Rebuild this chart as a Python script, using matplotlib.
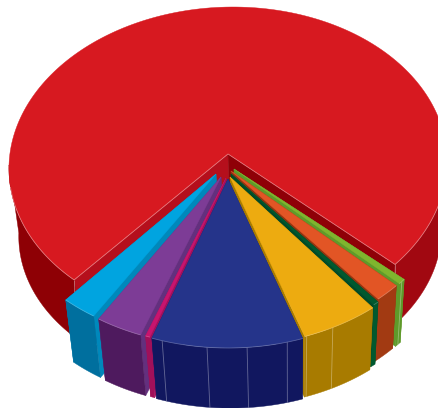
import numpy as np
import matplotlib
matplotlib.use("Agg")
import matplotlib.pyplot as plt
from matplotlib.patches import Polygon

# clockwise from the right edge of the large slice
names = ["green", "orange", "darkgreen", "gold", "navy", "magenta", "purple", "cyan", "red"]
values = [0.55, 1.9, 0.42, 5.75, 11.2, 0.33, 3.45, 2.6, 73.8]

offset_x = [6, 3, 3, 2, 0, -2, -7, -12, 0]
offset_y = [15, 17, 20, 23, 25, 24, 23, 20, 0]
top_col = ["#7fb52e", "#e25525", "#00592f", "#edab10", "#25348a", "#c8146e", "#7d3c96", "#00a4e0", "#d71920"]
wall_col = ["#5f9a2a", "#a23a12", "#00592f", "#a87b00", "#11175f", "#a0105a", "#4e1a5e", "#006f9e", "#9c0610"]
lo_col = ["#5f9a2a", "#8f3410", "#004a28", "#a87b00", "#1a2070", "#a0105a", "#63307e", "#0088bb", "#b50f1c"]
hi_col = ["#5f9a2a", "#8f3410", "#004a28", "#a87b00", "#1a2070", "#a0105a", "#63307e", "#0088bb", "#8f0007"]
seams = {"navy": [74.3, 85, 95.5, 107.5], "gold": [62, 69.5], "green": [40]}

CX, CY, A, B = 228, 165, 219, 158
APEX = -11
SCALE_X, SCALE_Y, DROP, VANISH_X = 0.965, 0.95, 68, 290
START = 39.0
RED_SHEAR = 5

fig = plt.figure(figsize=(4.38, 4.08), dpi=100)
ax = fig.add_axes([0, 0, 1, 1])
ax.set_xlim(0, 438)
ax.set_ylim(408, 0)
ax.axis("off")

fr = np.array(values) / sum(values) * 360
edges = START + np.concatenate([[0], np.cumsum(fr)])


def arc(t0, t1, c, shear=0.0, n=200):
    t = np.radians(np.linspace(t0, t1, n))
    return np.column_stack([c[0] + A * np.cos(t) - shear * np.sin(t), c[1] + B * np.sin(t)])


def down(pts, c):
    out = np.empty_like(pts)
    out[:, 0] = VANISH_X + SCALE_X * (pts[:, 0] - VANISH_X)
    out[:, 1] = c[1] + SCALE_Y * (pts[:, 1] - c[1]) + DROP
    return out


def poly(pts, col, z):
    ax.add_patch(Polygon(pts, closed=True, facecolor=col, edgecolor=col, lw=0.3, zorder=z))


def pale(pts, z, alpha=0.35):
    ax.plot(pts[:, 0], pts[:, 1], color="white", alpha=alpha, lw=0.6, zorder=z,
            solid_capstyle="butt")


order = ["red", "green", "orange", "darkgreen", "cyan", "purple", "magenta", "gold", "navy"]
for z, name in enumerate(order):
    i = names.index(name)
    c = np.array([CX + offset_x[i], CY + offset_y[i]], float)
    t0, t1 = edges[i], edges[i + 1]
    shear = RED_SHEAR if name == "red" else 0.0
    rim = arc(t0, t1, c, shear)
    apex = np.array([[c[0], c[1] + APEX]], float)
    base = z * 10
    # radial faces
    for end, col in ((rim[:1], lo_col[i]), (rim[-1:], hi_col[i])):
        poly(np.vstack([apex, end, down(end, c), down(apex, c)]), col, base + 1)
    # outer wall
    if name == "red":
        left = arc(t0, 180, c, shear, 100)
        right = arc(360, t1, c, shear, 100)
        poly(np.vstack([left, down(left, c)[::-1]]), "#8e0005", base + 2)
        poly(np.vstack([right, down(right, c)[::-1]]), "#a10811", base + 2)
    else:
        poly(np.vstack([rim, down(rim, c)[::-1]]), wall_col[i], base + 2)
    for s in seams.get(name, []):
        p = arc(s, s, c, shear, 1)
        pale(np.vstack([p, down(p, c)]), base + 3)
    # top face
    poly(np.vstack([apex, rim]), top_col[i], base + 4)
    # pale rim highlight
    if name == "red":
        low_left = arc(t0, 172, c, shear, 100)
        low_right = arc(372, t1, c, shear, 100)
        pale(low_left, base + 5, 0.4)
        pale(low_right, base + 5, 0.4)
        pale(np.vstack([low_left[:1], apex, low_right[-1:]]), base + 5, 0.4)
        for end in (low_left[:1], low_right[-1:]):
            q = np.vstack([end, end + np.array([[0, 12]])])
            pale(q, base + 5, 0.4)
    else:
        pale(rim, base + 5, 0.25)

fig.savefig("out.png", dpi=100)
